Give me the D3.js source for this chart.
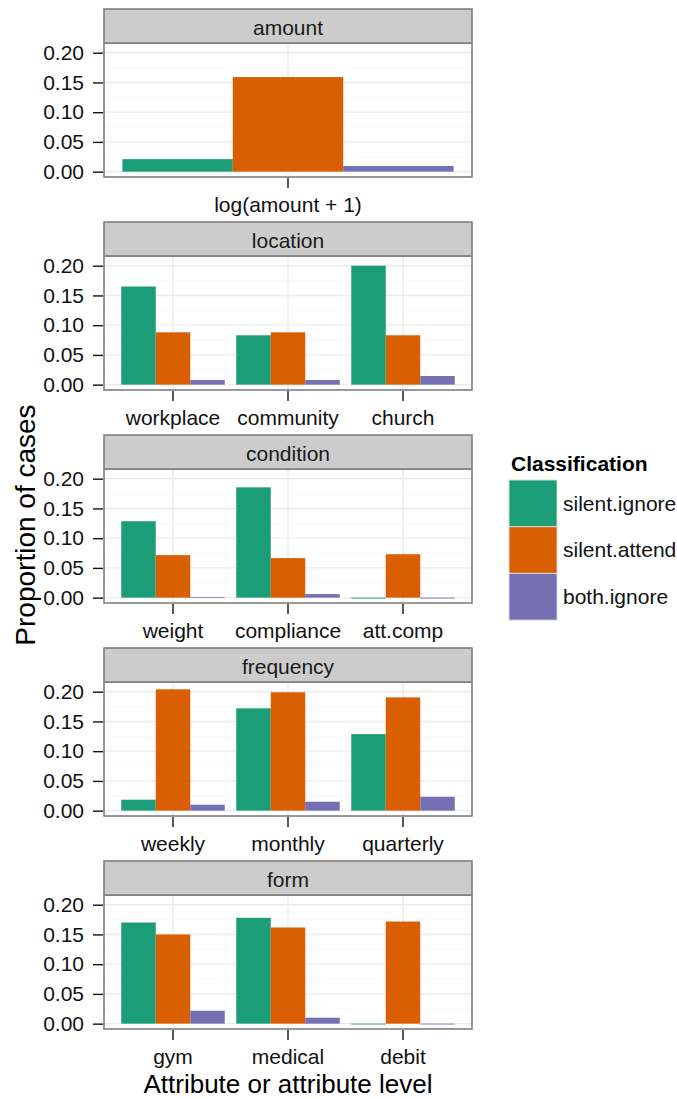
<!DOCTYPE html>
<html>
<head>
<meta charset="utf-8">
<script src="https://cdn.jsdelivr.net/npm/d3@7"></script>
<style>
  body { margin: 0; background: #fff; }
  svg { display: block; font-family: "Liberation Sans", Arial, Helvetica, sans-serif; }
</style>
</head>
<body>
<svg id="chart" width="677" height="1099"></svg>
<script>
// --- data
const facets = ["amount", "location", "condition", "frequency", "form"];
const levels = [
  ["log(amount + 1)"],
  ["workplace", "community", "church"],
  ["weight", "compliance", "att.comp"],
  ["weekly", "monthly", "quarterly"],
  ["gym", "medical", "debit"]
];
const classes = ["silent.ignore", "silent.attend", "both.ignore"];
const colors = ["#1B9E77", "#D95F02", "#7570B3"];
const silentIgnore = [[0.021], [0.165, 0.083, 0.200], [0.1285, 0.1855, -0.0015], [0.0184, 0.172, 0.1287], [0.170, 0.178, -0.0005]];
const silentAttend = [[0.159], [0.088, 0.088, 0.083], [0.0715, 0.0665, 0.073], [0.204, 0.199, 0.1905], [0.150, 0.1617, 0.1717]];
const bothIgnore = [[0.0095], [0.0078, 0.0078, 0.0145], [0.001, 0.006, -0.0015], [0.010, 0.015, 0.0234], [0.0217, 0.010, -0.0005]];
const yTicks = [0, 0.05, 0.10, 0.15, 0.20];
const yMinor = [0.025, 0.075, 0.125, 0.175];

const series = [silentIgnore, silentAttend, bothIgnore];

const svg = d3.select("#chart");
const left = 104, right = 472;
const stripH = 34, panelH = 134, gap = 213, top0 = 9;

const color = d3.scaleOrdinal().domain(classes).range(colors);
const fmt = d3.format(".2f");

facets.forEach((facet, k) => {
  const stripTop = top0 + gap * k;
  const pTop = stripTop + stripH;
  const pBot = pTop + panelH;
  const g = svg.append("g").attr("class", "panel");

  const x = d3.scaleBand()
    .domain(levels[k])
    .range([left, right])
    .paddingInner(0.1)
    .paddingOuter(levels[k].length === 1 ? 0.049 : 0.15);
  const xi = d3.scaleBand().domain(classes).range([0, x.bandwidth()]);
  const y = d3.scaleLinear().domain([-0.009, 0.2163]).range([pBot, pTop]);

  // background + grid
  g.append("rect").attr("x", left).attr("y", pTop)
    .attr("width", right - left).attr("height", panelH).attr("fill", "#fff");
  g.selectAll(".minor").data(yMinor).enter().append("line")
    .attr("x1", left).attr("x2", right)
    .attr("y1", d => y(d)).attr("y2", d => y(d))
    .attr("stroke", "#fafafa").attr("stroke-width", 1.2);
  g.selectAll(".major").data(yTicks).enter().append("line")
    .attr("x1", left).attr("x2", right)
    .attr("y1", d => y(d)).attr("y2", d => y(d))
    .attr("stroke", "#ebebeb").attr("stroke-width", 1.4);
  g.selectAll(".vmajor").data(levels[k]).enter().append("line")
    .attr("x1", d => x(d) + x.bandwidth() / 2).attr("x2", d => x(d) + x.bandwidth() / 2)
    .attr("y1", pTop).attr("y2", pBot)
    .attr("stroke", "#ebebeb").attr("stroke-width", 1.4);

  // bars
  const rows = [];
  levels[k].forEach((lev, i) => {
    classes.forEach((c, j) => rows.push({ lev, cls: c, v: series[j][k][i] }));
  });
  g.append("g").selectAll("rect").data(rows).enter().append("rect")
    .attr("x", d => x(d.lev) + xi(d.cls))
    .attr("width", xi.bandwidth())
    .attr("y", d => y(Math.max(0, d.v)))
    .attr("height", d => Math.max(Math.abs(y(d.v) - y(0)), 0.8))
    .attr("fill", d => color(d.cls));

  // border
  g.append("rect").attr("x", left).attr("y", pTop)
    .attr("width", right - left).attr("height", panelH)
    .attr("fill", "none").attr("stroke", "#7f7f7f").attr("stroke-width", 1.6);

  // strip
  g.append("rect").attr("x", left).attr("y", stripTop)
    .attr("width", right - left).attr("height", stripH)
    .attr("fill", "#cccccc").attr("stroke", "#7f7f7f").attr("stroke-width", 1.6);
  g.append("text").attr("x", (left + right) / 2).attr("y", stripTop + 25.5)
    .attr("text-anchor", "middle").attr("font-size", 21).attr("fill", "#1a1a1a")
    .text(facet);

  // axes
  const ya = g.append("g").attr("transform", `translate(${left - 1},0)`)
    .call(d3.axisLeft(y).tickValues(yTicks).tickFormat(fmt).tickSize(10).tickPadding(9));
  const xa = g.append("g").attr("transform", `translate(0,${pBot + 1})`)
    .call(d3.axisBottom(x).tickSize(10).tickPadding(9));
  [ya, xa].forEach(a => {
    a.select(".domain").remove();
    a.selectAll(".tick line").attr("stroke", "#111").attr("stroke-width", 1.4);
    a.selectAll(".tick text").attr("font-size", 21).attr("fill", "#111")
      .attr("font-family", "Liberation Sans, Arial, sans-serif");
  });
});

// axis titles
svg.append("text").attr("x", (left + right) / 2).attr("y", 1093)
  .attr("text-anchor", "middle").attr("font-size", 26).attr("fill", "#000")
  .text("Attribute or attribute level");
svg.append("text").attr("transform", "translate(35,525) rotate(-90)")
  .attr("text-anchor", "middle").attr("font-size", 28).attr("fill", "#000")
  .text("Proportion of cases");

// legend
const lg = svg.append("g").attr("transform", "translate(509,0)");
lg.append("text").attr("x", 2).attr("y", 471)
  .attr("font-size", 21).attr("font-weight", "bold").text("Classification");
const keyH = 46.7;
lg.selectAll(".key").data(classes).enter().append("rect")
  .attr("x", 0).attr("y", (d, i) => 480 + i * keyH)
  .attr("width", 48).attr("height", keyH)
  .attr("fill", d => color(d)).attr("stroke", "#d9d9d9").attr("stroke-width", 1);
lg.selectAll(".lab").data(classes).enter().append("text")
  .attr("x", 54).attr("y", (d, i) => 480 + i * keyH + keyH / 2)
  .attr("dy", "0.35em").attr("font-size", 21).attr("fill", "#111")
  .text(d => d);
</script>
</body>
</html>
